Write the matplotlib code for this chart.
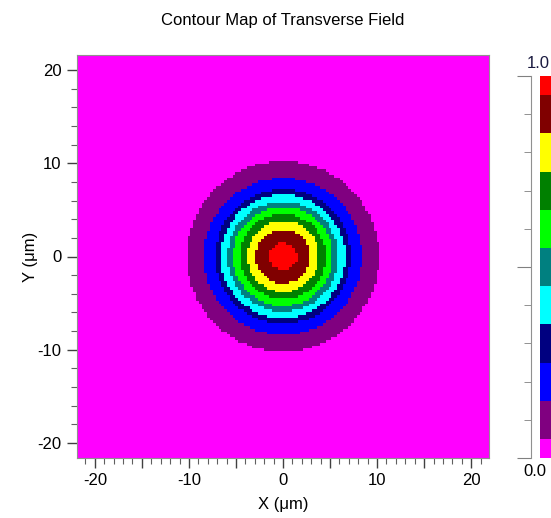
import numpy as np
import matplotlib
matplotlib.use('Agg')
import matplotlib.pyplot as plt
from matplotlib.colors import ListedColormap, BoundaryNorm
from matplotlib.ticker import MultipleLocator, FuncFormatter

plt.rcParams['font.family'] = ['Liberation Sans', 'DejaVu Sans']
plt.rcParams['axes.unicode_minus'] = False

# contour levels (band edges) and their colours, low -> high
level_edges = [0.0, 0.05, 0.15, 0.25, 0.35, 0.45, 0.55, 0.65, 0.75, 0.85, 0.95, 1.0]
band_colors = ['#ff00ff', '#800080', '#0000ff', '#000080', '#00ffff', '#008080',
               '#00ff00', '#008000', '#ffff00', '#800000', '#ff0000']

# radius (um) of each contour ring, centre -> outside
ring_radius = [0.0, 1.46, 2.9, 3.8, 4.55, 5.3, 5.9, 6.6, 7.2, 8.4, 10.2, 22.0]
ring_level = [1.0, 0.95, 0.85, 0.75, 0.65, 0.55, 0.45, 0.35, 0.25, 0.15, 0.05, 0.0]

grid_step = 0.3
x = np.arange(-22, 22 + grid_step / 2, grid_step)
y = np.arange(-22, 22 + grid_step / 2, grid_step)
X, Y = np.meshgrid(x, y)
R = np.hypot(X, Y)
field = np.interp(R, ring_radius, ring_level)

cmap = ListedColormap(band_colors)
norm = BoundaryNorm(level_edges, cmap.N)

fig = plt.figure(figsize=(5.51, 5.18), dpi=100)
ax = fig.add_axes([77 / 551, 60 / 518, 412 / 551, 403 / 518])
ax.pcolormesh(x, y, field, cmap=cmap, norm=norm, shading='nearest')
ax.set_xlim(-21.9, 21.9)
ax.set_ylim(-21.6, 21.6)

ax.xaxis.set_major_locator(MultipleLocator(5))
ax.xaxis.set_minor_locator(MultipleLocator(1))
ax.xaxis.set_major_formatter(FuncFormatter(lambda v, p: '%d' % v if round(v) % 10 == 0 else ''))
ax.yaxis.set_major_locator(MultipleLocator(10))
ax.yaxis.set_minor_locator(MultipleLocator(2))
ax.tick_params(which='major', length=7, width=1, color='#404040', labelsize=12, pad=4)
ax.tick_params(which='minor', length=4, width=0.8, color='#606060')
for s in ax.spines.values():
    s.set_color('#909090')

ax.set_xlabel('X (\u03bcm)', fontsize=12, labelpad=6)
ax.set_ylabel('Y (\u03bcm)', fontsize=12, labelpad=0)
fig.text(283 / 551, 1 - 20 / 518, 'Contour Map of Transverse Field',
         ha='center', va='center', fontsize=12,
         family=['Liberation Sans Narrow', 'Liberation Sans', 'DejaVu Sans'])

# colour scale bar on the right, partly cut by the figure edge
bar_bottom, bar_top = 60 / 518, 1 - 76 / 518
band_mid = [[(a + b) / 2] for a, b in zip(level_edges[:-1], level_edges[1:])]
cax = fig.add_axes([540 / 551, bar_bottom, 14 / 551, bar_top - bar_bottom])
cax.pcolormesh([0, 1], level_edges, np.array(band_mid), cmap=cmap, norm=norm)
cax.set_ylim(0, 1)
cax.set_axis_off()

sax = fig.add_axes([531 / 551, bar_bottom, 1 / 551, bar_top - bar_bottom])
sax.set_ylim(0, 1)
sax.patch.set_visible(False)
for k in ['top', 'right', 'bottom']:
    sax.spines[k].set_visible(False)
sax.spines['left'].set_color('#909090')
sax.set_xticks([])
sax.yaxis.set_major_locator(MultipleLocator(0.5))
sax.yaxis.set_minor_locator(MultipleLocator(0.1))
sax.tick_params(which='major', length=10, color='#808080', labelleft=False)
sax.tick_params(which='minor', length=5, color='#808080')
fig.text(538 / 551, 1 - 63 / 518, '1.0', ha='center', va='center', fontsize=12, color='#1a1a40')
fig.text(535 / 551, 1 - 471 / 518, '0.0', ha='center', va='center', fontsize=12)

fig.savefig('out.png', dpi=100)
